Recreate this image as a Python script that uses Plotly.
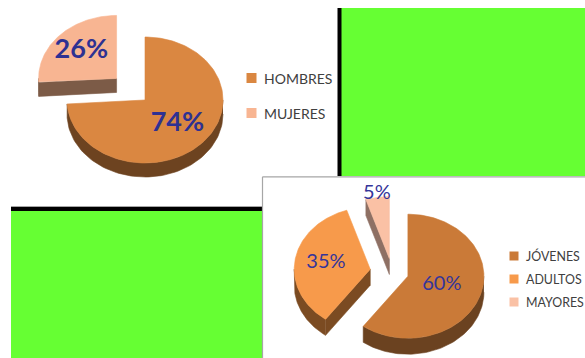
import numpy as np
import plotly.graph_objects as go

# ---------------- data ----------------
cats1 = ["HOMBRES", "MUJERES"]
vals1 = [74, 26]

cats2 = ["JÓVENES", "ADULTOS", "MAYORES"]
vals2 = [60, 35, 5]

# ---------------- styles ----------------
W, H = 585, 358
LABEL_COLOR1 = "#2E3192"
LABEL_COLOR2 = "#35359A"
LEGEND_TEXT = "#404040"
GREEN = "#66FF33"
GRAY = "#A6A6A6"

style1 = dict(cx=145, cy=100, rx=78, ry=63, depth=14, pull=[0.0, 0.5],
              tops=["#DA8741", "#F8B592"], sides=["#6D4320", "#7C5B47"],
              label_r=[0.57, 0.62], label_size=27, label_weight="bold",
              label_color=LABEL_COLOR1,
              leg_x=251.5, leg_y0=78, leg_dy=35, leg_sq=10, leg_size=14)

style2 = dict(cx=392, cy=272, rx=76, ry=62, depth=16, pull=[0.22, 0.29, 0.22],
              tops=["#CA7A38", "#F79A4B", "#FAC1A5"], sides=["#6B4220", "#7B4B22", "#8E7064"],
              label_r=[0.47, 0.59, 1.05], label_size=20, label_weight="normal",
              label_color=LABEL_COLOR2,
              leg_x=514, leg_y0=256, leg_dy=23, leg_sq=9, leg_size=12.4)

fig = go.Figure()


def pt(cx, cy, rx, ry, ang):
    a = np.radians(ang)
    return cx + rx * np.sin(a), cy - ry * np.cos(a)


def poly(xs, ys, color):
    fig.add_trace(go.Scatter(x=list(xs), y=list(ys), mode="lines", fill="toself",
                             fillcolor=color, line=dict(color=color, width=0.6),
                             hoverinfo="skip", showlegend=False))


def draw_pie(cats, vals, st):
    total = float(sum(vals))
    cx, cy, rx, ry, d = st["cx"], st["cy"], st["rx"], st["ry"], st["depth"]
    starts, ends, apexes = [], [], []
    acc = 0.0
    for i, v in enumerate(vals):
        a0 = acc / total * 360.0
        acc += v
        a1 = acc / total * 360.0
        mid = (a0 + a1) / 2
        p = st["pull"][i]
        ax, ay = pt(cx, cy, rx * p, ry * p, mid)
        starts.append(a0); ends.append(a1); apexes.append((ax, ay))
    # sides first
    for i in range(len(vals)):
        a0, a1 = starts[i], ends[i]
        ax, ay = apexes[i]
        col = st["sides"][i]
        if 180 < a0 < 360:
            ox, oy = pt(ax, ay, rx, ry, a0)
            poly([ax, ox, ox, ax, ax], [ay, oy, oy + d, ay + d, ay], col)
        if 0 < a1 < 180:
            ox, oy = pt(ax, ay, rx, ry, a1)
            poly([ax, ox, ox, ax, ax], [ay, oy, oy + d, ay + d, ay], col)
        r0, r1 = max(a0, 90), min(a1, 270)
        if r1 > r0:
            th = np.linspace(r0, r1, 80)
            xs, ys = pt(ax, ay, rx, ry, th)
            poly(np.concatenate([xs, xs[::-1]]), np.concatenate([ys, ys[::-1] + d]), col)
    # tops
    for i in range(len(vals)):
        a0, a1 = starts[i], ends[i]
        ax, ay = apexes[i]
        th = np.linspace(a0, a1, 160)
        xs, ys = pt(ax, ay, rx, ry, th)
        poly(np.concatenate([[ax], xs, [ax]]), np.concatenate([[ay], ys, [ay]]), st["tops"][i])
    # labels
    lx, ly, lt = [], [], []
    for i, v in enumerate(vals):
        mid = (starts[i] + ends[i]) / 2
        ax, ay = apexes[i]
        x, y = pt(ax, ay, rx * st["label_r"][i], ry * st["label_r"][i], mid)
        lx.append(x); ly.append(y); lt.append(f"{v}%")
    fig.add_trace(go.Scatter(x=lx, y=ly, text=lt, mode="text", textposition="middle center",
                             textfont=dict(family="Lato", size=st["label_size"],
                                           color=st["label_color"], weight=st["label_weight"]),
                             hoverinfo="skip", showlegend=False))
    # legend
    ys_leg = [st["leg_y0"] + k * st["leg_dy"] for k in range(len(cats))]
    fig.add_trace(go.Scatter(x=[st["leg_x"]] * len(cats), y=ys_leg, mode="markers",
                             marker=dict(symbol="square", size=st["leg_sq"], color=st["tops"],
                                         line=dict(width=0)),
                             hoverinfo="skip", showlegend=False))
    for k, c in enumerate(cats):
        fig.add_annotation(x=st["leg_x"] + st["leg_sq"] / 2 + 5, y=ys_leg[k], text=c,
                           showarrow=False, xanchor="left", yanchor="middle",
                           font=dict(family="Lato", size=st["leg_size"], color=LEGEND_TEXT))


draw_pie(cats1, vals1, style1)
draw_pie(cats2, vals2, style2)

shapes = [
    dict(type="rect", x0=341, x1=585, y0=8, y1=176, fillcolor=GREEN, line=dict(width=0)),
    dict(type="rect", x0=337.5, x1=341.5, y0=8, y1=176, fillcolor="black", line=dict(width=0)),
    dict(type="rect", x0=11, x1=262, y0=211, y1=358, fillcolor=GREEN, line=dict(width=0)),
    dict(type="rect", x0=11, x1=262, y0=207, y1=211, fillcolor="black", line=dict(width=0)),
    dict(type="line", x0=11, x1=262, y0=206.5, y1=206.5, line=dict(color=GRAY, width=1)),
    dict(type="line", x0=262.5, x1=585, y0=176.8, y1=176.8, line=dict(color=GRAY, width=1.2)),
    dict(type="line", x0=262.5, x1=262.5, y0=176.8, y1=358, line=dict(color=GRAY, width=1.2)),
]
for s in shapes:
    s.update(xref="x", yref="y", layer="below")

fig.update_layout(
    width=W, height=H, margin=dict(l=0, r=0, t=0, b=0),
    paper_bgcolor="white", plot_bgcolor="white",
    xaxis=dict(range=[0, W], visible=False, fixedrange=True),
    yaxis=dict(range=[H, 0], visible=False, fixedrange=True),
    shapes=shapes, showlegend=False, hovermode=False,
)

fig.write_html("out.html")
